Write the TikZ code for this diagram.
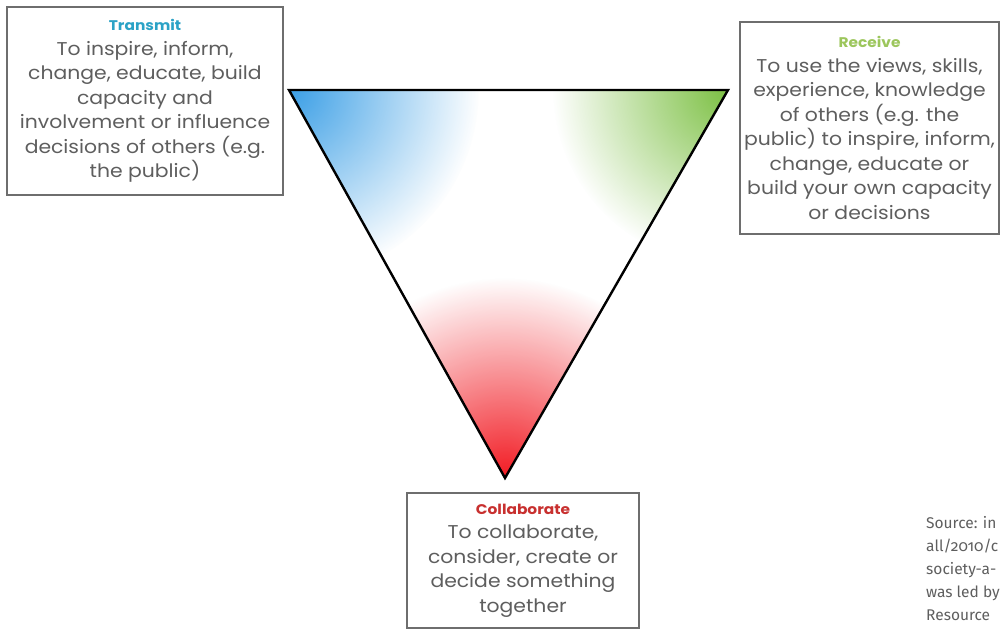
\documentclass[tikz,border=0pt]{standalone}
\usepackage{fontspec}
\setmainfont{Poppins}[FakeStretch=1.1]
\newfontfamily\srcfont[Numbers=OldStyle]{Fira Sans}
\usepackage{tikz}
\usetikzlibrary{fadings}
\definecolor{txtgray}{HTML}{5E5E5E}
\definecolor{boxgray}{HTML}{6E6E6E}
\definecolor{transC}{HTML}{2BA2C6}
\definecolor{recvC}{HTML}{9CC65C}
\definecolor{collC}{HTML}{C8302F}
\definecolor{blueC}{HTML}{3B9FE6}
\definecolor{greenC}{HTML}{7CC043}
\definecolor{redC}{HTML}{F21B23}
\tikzfading[name=cornerfade, inner color=transparent!0, outer color=transparent!100]
\tikzset{box/.style={draw=boxgray, line width=1.6pt, fill=white, inner sep=0pt,
    align=center, text=txtgray, font=\fontsize{18.5}{24.5}\selectfont}}
\tikzset{tri/.style={draw=black, line width=2.4pt, line join=miter}}
\newcommand{\boxtitle}[2]{{\color{#1}\fontsize{14}{24.5}\selectfont\bfseries #2}}

\begin{document}
\begin{tikzpicture}[x=1pt, y=-1pt]
        \useasboundingbox (0,0) rectangle (1001,633);
        % corners of the triangle
        \coordinate (tl) at (289, 90);
        \coordinate (tr) at (728, 90);
        \coordinate (bt) at (505, 478);
        \begin{scope}
            \clip (tl) -- (tr) -- (bt) -- cycle;
            \fill[white] (tl) -- (tr) -- (bt) -- cycle;
            \fill[blueC, path fading=cornerfade] (tl) circle (190);
            \fill[greenC, path fading=cornerfade] (tr) circle (175);
            \fill[redC, path fading=cornerfade] (bt) circle (200);
        \end{scope}
        \draw[tri] (tl) -- (tr) -- (bt) -- cycle;
        % the three boxes
        \node[box, minimum width=276, minimum height=188] (transmit) at (145, 101)
            {\boxtitle{transC}{Transmit}\\
            To inspire, inform,\\change, educate, build\\capacity and\\
            involvement or influence\\decisions of others (e.g.\\the public)};
        \node[box, minimum width=259, minimum height=212] (receive) at (869.5, 128)
            {\boxtitle{recvC}{Receive}\\
            To use the views, skills,\\experience, knowledge\\of others (e.g. the\\
            public) to inspire, inform,\\change, educate or\\build your own capacity\\or decisions};
        \node[box, minimum width=232, minimum height=135] (collab) at (523, 560.5)
            {\boxtitle{collC}{Collaborate}\\
            To collaborate,\\consider, create or\\decide something\\together};
        % source note, cut by the page edge
        \node[anchor=north west, align=left, inner sep=0pt, text=txtgray,
            font=\srcfont\fontsize{15.5}{23}\selectfont] (source) at (926, 516)
            {Source: in\\all/2010/c\\society-a-\\was led by\\Resource};
\end{tikzpicture}
\end{document}
